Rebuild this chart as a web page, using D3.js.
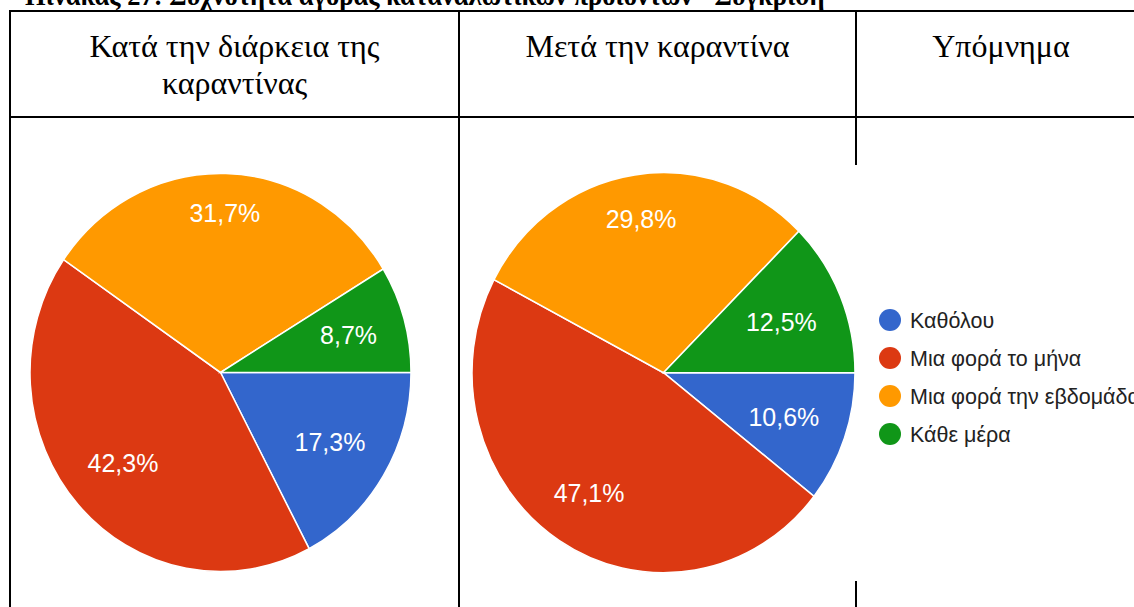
<!DOCTYPE html>
<html>
<head>
<meta charset="utf-8">
<script src="https://cdn.jsdelivr.net/npm/d3@7/dist/d3.min.js"></script>
<style>
  html, body { margin: 0; padding: 0; background: #fff; }
  svg { display: block; }
</style>
</head>
<body>
<svg id="chart" width="1134" height="607"></svg>
<script>
// Purchase frequency of consumer products: during vs after the quarantine
const title = "Πίνακας 27: Συχνότητα αγοράς καταναλωτικών προϊόντων - Σύγκριση";
const columnHeaders = [["Κατά την διάρκεια της", "καραντίνας"], ["Μετά την καραντίνα"], ["Υπόμνημα"]];
const categories = ["Καθόλου", "Μια φορά το μήνα", "Μια φορά την εβδομάδα", "Κάθε μέρα"];
const duringValues = [17.3, 42.3, 31.7, 8.7];
const afterValues = [10.6, 47.1, 29.8, 12.5];
const sliceColors = ["#3366cc", "#dc3912", "#ff9900", "#109618"];

const svg = d3.select("#chart");
const W = 1134, H = 607;
svg.append("rect").attr("width", W).attr("height", H).attr("fill", "#fff");

// Table geometry
const colEdges = [10, 459, 856, 1146];
const tableTop = 11, headerBottom = 117;
const serif = "'Liberation Serif', 'Times New Roman', serif";
const sans = "'Liberation Sans', Arial, sans-serif";

// Caption above the table (fit to its width)
const cap = svg.append("text")
  .attr("x", 25).attr("y", 5)
  .attr("font-family", serif).attr("font-weight", "bold")
  .attr("font-size", 20).attr("fill", "#000")
  .text(title);
const capLen = cap.node().getComputedTextLength();
cap.attr("font-size", 20 * 800 / capLen);

const grid = svg.append("g").attr("stroke", "#000").attr("stroke-width", 2);
grid.append("line").attr("x1", colEdges[0] - 1).attr("x2", colEdges[3]).attr("y1", tableTop).attr("y2", tableTop);
grid.append("line").attr("x1", colEdges[0]).attr("x2", colEdges[3]).attr("y1", headerBottom).attr("y2", headerBottom);
colEdges.forEach(x => {
  grid.append("line").attr("x1", x).attr("x2", x).attr("y1", tableTop - 1).attr("y2", H);
});

// Header cells
columnHeaders.forEach((lines, i) => {
  const cx = (colEdges[i] + colEdges[i + 1]) / 2;
  lines.forEach((ln, j) => {
    svg.append("text")
      .attr("x", cx).attr("y", 57 + j * 37)
      .attr("text-anchor", "middle")
      .attr("font-family", serif).attr("font-size", 32)
      .attr("fill", "#000")
      .text(ln);
  });
});

// Chart panel of the second column sits on top of the grid
svg.append("rect").attr("x", 461).attr("y", 165).attr("width", W - 461).attr("height", 416).attr("fill", "#fff");

const color = d3.scaleOrdinal().domain(categories).range(sliceColors);
const locale = d3.formatLocale({ decimal: ",", thousands: ".", grouping: [3], currency: ["", "€"] });
const fmt = v => locale.format(".1f")(v) + "%";

const pie = d3.pie().sort(null).value(d => d.value)
  .startAngle(Math.PI / 2).endAngle(Math.PI / 2 + 2 * Math.PI);

function drawPie(values, cx, cy, r) {
  const data = categories.map((c, i) => ({ cat: c, value: values[i] }));
  const arc = d3.arc().innerRadius(0).outerRadius(r);
  const g = svg.append("g").attr("transform", `translate(${cx},${cy}) scale(1,1.045)`);
  const arcs = pie(data);
  g.selectAll("path").data(arcs).join("path")
    .attr("d", arc)
    .attr("fill", d => color(d.data.cat))
    .attr("stroke", "#fff").attr("stroke-width", 1.5);

  const fs = 25;
  g.selectAll("text").data(arcs).join("text")
    .attr("font-family", sans).attr("font-size", fs)
    .attr("fill", "#fff").attr("text-anchor", "middle")
    .attr("dy", "0.36em")
    .text(d => fmt(d.data.value))
    .each(function (d) {
      const a = (d.startAngle + d.endAngle) / 2;
      const ux = Math.sin(a), uy = -Math.cos(a);
      const hw = this.getComputedTextLength() / 2, hh = fs * 0.36;
      const dist = 0.855 * r - (hw * Math.abs(ux) + hh * Math.abs(uy));
      d3.select(this).attr("x", ux * dist).attr("y", uy * dist);
    });
}

drawPie(duringValues, 220.5, 372.5, 190.5);
drawPie(afterValues, 663.5, 372.7, 191.5);

// Legend
const legend = svg.append("g").attr("transform", "translate(890,320)");
const items = legend.selectAll("g").data(categories).join("g")
  .attr("transform", (d, i) => `translate(0,${i * 38})`);
items.append("circle").attr("r", 11).attr("fill", d => color(d));
items.append("text")
  .attr("x", 20).attr("dy", "0.35em")
  .attr("font-family", sans).attr("font-size", 21.5)
  .attr("fill", "#222")
  .text(d => d);
</script>
</body>
</html>
